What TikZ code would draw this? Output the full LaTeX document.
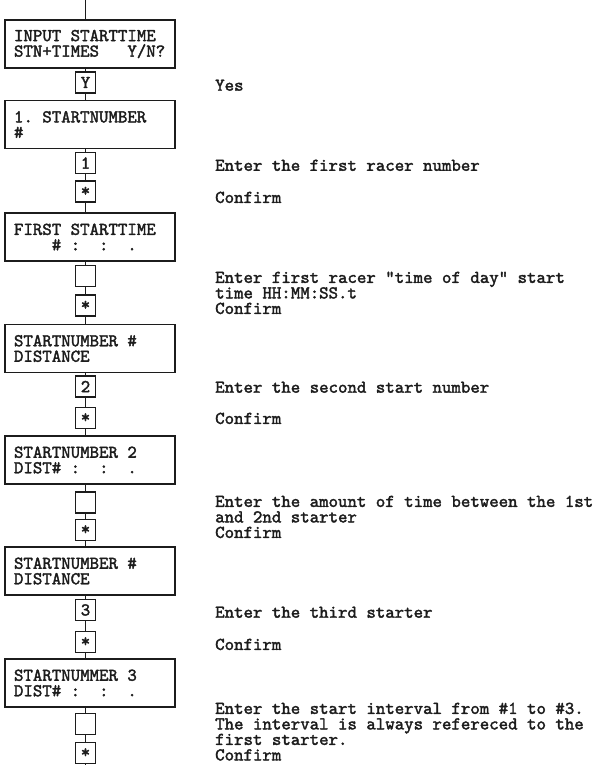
\documentclass[tikz,border=0pt]{standalone}
\usepackage{fontspec}
\usepackage{tikz}
\usetikzlibrary{calc}
\newfontfamily\lcdface{lmmono10-regular}[Extension=.otf, FakeBold=2]
\definecolor{CI}{HTML}{1c1c1c}
\newcommand{\lcdfont}{\lcdface\fontsize{18}{15.5}\selectfont
	\fontdimen3\font=0pt \fontdimen4\font=0pt \frenchspacing}
\newcommand{\keystar}{\raisebox{-3pt}{*}}
\tikzset{
	scr/.style = {draw=CI, line width=1.3pt, minimum width=170pt, minimum height=48pt,
		text width=152pt, inner xsep=9pt, align=left, font=\lcdfont, text=CI,
		execute at begin node={\spaceskip=0pt \xspaceskip=0pt}},
	key/.style = {draw=CI, line width=1.3pt, minimum width=20pt, minimum height=21pt,
		inner sep=0pt, font=\lcdfont, text=CI},
	nt/.style  = {anchor=north west, inner sep=0pt, align=left, font=\lcdfont, text=CI},
	ln/.style  = {draw=CI, line width=1pt},
}

\begin{document}
\begin{tikzpicture}[x=1pt, y=-1pt]
		
		\useasboundingbox (0,0) rectangle (600,765);
		
		%%═══════════════════════════════════════════════════════════════════
		%% DISPLAY SCREENS  (x = 5 … 175)   and KEYS  (x = 75.5 … 95.5)
		%%═══════════════════════════════════════════════════════════════════
		\coordinate (top) at (85.5,0);
		\coordinate (bot) at (85.5,765);
		
		\node[scr] (s1) at (90, 44)    {INPUT STARTTIME\\STN+TIMES~~~Y/N?};
		\node[key] (kY) at (85.5, 82.5) {Y};
		\node[scr] (s2) at (90, 124.5) {1. STARTNUMBER\\\#};
		\node[key] (k1) at (85.5,163)   {1};
		\node[key] (c1) at (85.5,191.5) {\keystar};
		\node[scr] (s3) at (90,237)    {FIRST STARTTIME\\\mbox{}~~~~\#~:~~:~~.};
		\node[key] (e1) at (85.5,276)   {};
		\node[key] (c2) at (85.5,305.5) {\keystar};
		\node[scr] (s4) at (90,348.5)  {STARTNUMBER \#\\DISTANCE};
		\node[key] (k2) at (85.5,386.5) {2};
		\node[key] (c3) at (85.5,418)   {\keystar};
		\node[scr] (s5) at (90,460)    {STARTNUMBER 2\\DIST\#~:~~:~~.};
		\node[key] (e2) at (85.5,502.5) {};
		\node[key] (c4) at (85.5,530)   {\keystar};
		\node[scr] (s6) at (90,571)    {STARTNUMBER \#\\DISTANCE};
		\node[key] (k3) at (85.5,610)   {3};
		\node[key] (c5) at (85.5,642)   {\keystar};
		\node[scr] (s7) at (90,683)    {STARTNUMMER 3\\DIST\#~:~~:~~.};
		\node[key] (e3) at (85.5,724)   {};
		\node[key] (c6) at (85.5,753)   {\keystar};
		
		%% Connecting line ─────────────────────────────────────────────────
		\draw[ln] (top) -- (s1.north -| top);
		\foreach \a/\b in {s1/kY, kY/s2, s2/k1, k1/c1, c1/s3, s3/e1, e1/c2, c2/s4,
			s4/k2, k2/c3, c3/s5, s5/e2, e2/c4, c4/s6, s6/k3, k3/c5, c5/s7,
			s7/e3, e3/c6}
		\draw[ln] (\a.south -| top) -- (\b.north -| top);
		\draw[ln] (c6.south) -- (bot);
		
		%%═══════════════════════════════════════════════════════════════════
		%% NOTES  (x = 215)
		%%═══════════════════════════════════════════════════════════════════
		\node[nt] (n1) at (215, 79.5)  {Yes};
		\node[nt] (n2) at (215,159.5)  {Enter the first racer number};
		\node[nt] (n3) at (215,191.5)  {Confirm};
		\node[nt] (n4) at (215,271.5)  {Enter first racer "time of day" start\\
			time HH:MM:SS.t\\Confirm};
		\node[nt] (n5) at (215,381.5)  {Enter the second start number};
		\node[nt] (n6) at (215,412.5)  {Confirm};
		\node[nt] (n7) at (215,495.5)  {Enter the amount of time between the 1st\\
			and 2nd starter\\Confirm};
		\node[nt] (n8) at (215,606.5)  {Enter the third starter};
		\node[nt] (n9) at (215,638.5)  {Confirm};
		\node[nt] (n10) at (215,702.5) {Enter the start interval from \#1 to \#3.\\
			The interval is always refereced to the\\first starter.\\Confirm};
		
	\end{tikzpicture}
\end{document}
